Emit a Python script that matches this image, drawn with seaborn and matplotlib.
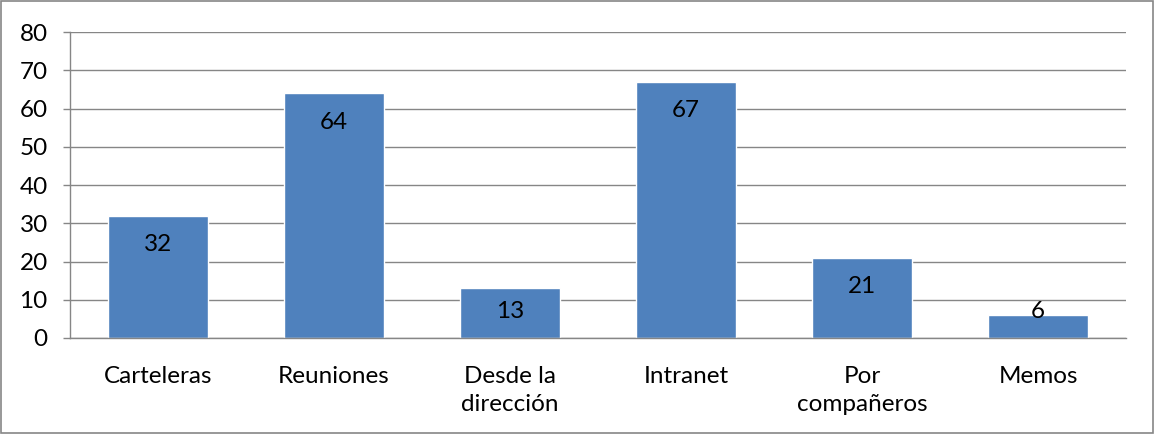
import matplotlib
matplotlib.use("Agg")
import matplotlib.pyplot as plt
import seaborn as sns
import pandas as pd

categories = ["Carteleras", "Reuniones", "Desde la\ndirección", "Intranet", "Por\ncompañeros", "Memos"]
values = [32, 64, 13, 67, 21, 6]
yticks = [0, 10, 20, 30, 40, 50, 60, 70, 80]

sns.set_theme(style="white")
plt.rcParams['font.family'] = ['Lato', 'DejaVu Sans']

df = pd.DataFrame({"cat": categories, "val": values})

fig = plt.figure(figsize=(11.55, 4.34), dpi=100)
ax = fig.add_axes([0.0606, 0.2212, 0.9144, 0.7048])
sns.barplot(data=df, x="cat", y="val", color="#4F81BD", saturation=1, width=0.57, ax=ax)
ax.set_ylim(0, 80)
ax.set_yticks(yticks)
ax.set_yticklabels([str(t) for t in yticks], fontsize=17.5, color="black")
ax.set_xlim(-0.5, len(categories) - 0.5)
ax.set_xlabel("")
ax.set_ylabel("")
ax.tick_params(axis="x", labelsize=17.5, colors="black", length=0, pad=20)
ax.tick_params(axis="y", length=5, width=1, color="#868686", pad=11, left=True)
for lbl in ax.get_xticklabels():
    lbl.set_linespacing(1.4)
ax.grid(axis="y", color="#868686", linewidth=1)
ax.set_axisbelow(True)
for s in ["top", "right"]:
    ax.spines[s].set_visible(False)
for s in ["left", "bottom"]:
    ax.spines[s].set_color("#868686")
    ax.spines[s].set_linewidth(1)

for i, v in enumerate(values):
    ax.text(i, max(v - 7.6, 6.8), str(v), ha="center", va="center", fontsize=17.5, color="black")

fig.patches.append(plt.Rectangle((0.001, 0.002), 0.997, 0.995, transform=fig.transFigure,
                                 fill=False, edgecolor="#868686", linewidth=1.2))
fig.savefig("out.png", dpi=100)
